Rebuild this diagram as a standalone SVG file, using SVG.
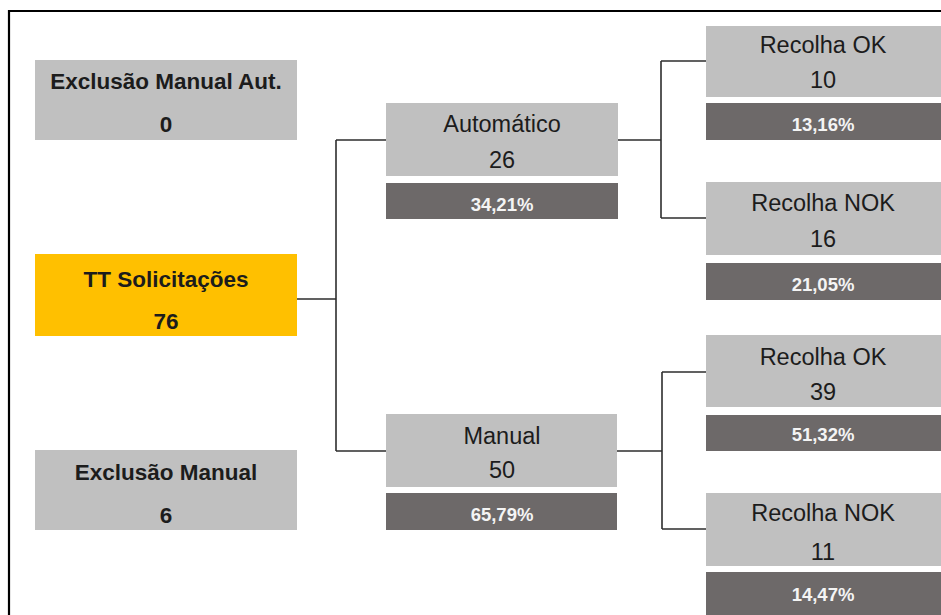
<svg xmlns="http://www.w3.org/2000/svg" width="941" height="615" viewBox="0 0 941 615">
  <style>
    .box { fill: #c0c0c0; }
    .hl { fill: #ffc000; }
    .bar { fill: #6d6969; }
    .t { font-family: "Liberation Sans", Arial, sans-serif; text-anchor: middle; fill: #1c1c1c; }
    .b { font-weight: bold; font-size: 22.5px; }
    .r { font-size: 23.5px; }
    .p { font-family: "Liberation Sans", Arial, sans-serif; text-anchor: middle; font-weight: bold; font-size: 18.5px; fill: #f4f4f4; }
    .wire { fill: none; stroke: #2e2e2e; stroke-width: 1.6; }
  </style>
  <rect width="941" height="615" fill="#ffffff"/>
  <!-- outer frame (left and top edges) -->
  <path d="M9,615 V11 H941" fill="none" stroke="#000" stroke-width="2.2"/>

  <g id="connectors">
    <path class="wire" d="M297,299 H336 M336,140 V451 M336,140 H386 M336,451 H386"/>
    <path class="wire" d="M618,140 H661 M661,61 V218 M661,61 H706 M661,218 H706"/>
    <path class="wire" d="M617,451 H662 M662,372 V529 M662,372 H706 M662,529 H706"/>
  </g>

  <g id="exclusao-manual-aut">
    <rect class="box" x="35" y="60" width="262" height="80"/>
    <text class="t b" x="166" y="89">Exclusão Manual Aut.</text>
    <text class="t b" x="166" y="132">0</text>
  </g>

  <g id="tt-solicitacoes">
    <rect class="hl" x="35" y="254" width="262" height="82"/>
    <text class="t b" x="166" y="287">TT Solicitações</text>
    <text class="t b" x="166" y="329">76</text>
  </g>

  <g id="exclusao-manual">
    <rect class="box" x="35" y="450" width="262" height="80"/>
    <text class="t b" x="166" y="480">Exclusão Manual</text>
    <text class="t b" x="166" y="523">6</text>
  </g>

  <g id="automatico">
    <rect class="box" x="386" y="103" width="232" height="73"/>
    <rect class="bar" x="386" y="183" width="232" height="36"/>
    <text class="t r" x="502" y="132">Automático</text>
    <text class="t r" x="502" y="168">26</text>
    <text class="p" x="502" y="211">34,21%</text>
  </g>

  <g id="manual">
    <rect class="box" x="386" y="414" width="231" height="73"/>
    <rect class="bar" x="386" y="493" width="231" height="37"/>
    <text class="t r" x="502" y="444">Manual</text>
    <text class="t r" x="502" y="478">50</text>
    <text class="p" x="502" y="521">65,79%</text>
  </g>

  <g id="auto-recolha-ok">
    <rect class="box" x="706" y="26" width="235" height="71"/>
    <rect class="bar" x="706" y="103" width="235" height="37"/>
    <text class="t r" x="823" y="53">Recolha OK</text>
    <text class="t r" x="823" y="88">10</text>
    <text class="p" x="823" y="131">13,16%</text>
  </g>

  <g id="auto-recolha-nok">
    <rect class="box" x="706" y="182" width="235" height="73"/>
    <rect class="bar" x="706" y="263" width="235" height="37"/>
    <text class="t r" x="823" y="211">Recolha NOK</text>
    <text class="t r" x="823" y="247">16</text>
    <text class="p" x="823" y="291">21,05%</text>
  </g>

  <g id="manual-recolha-ok">
    <rect class="box" x="706" y="335" width="235" height="72"/>
    <rect class="bar" x="706" y="415" width="235" height="36"/>
    <text class="t r" x="823" y="365">Recolha OK</text>
    <text class="t r" x="823" y="400">39</text>
    <text class="p" x="823" y="441">51,32%</text>
  </g>

  <g id="manual-recolha-nok">
    <rect class="box" x="706" y="493" width="235" height="73"/>
    <rect class="bar" x="706" y="572" width="235" height="45"/>
    <text class="t r" x="823" y="521">Recolha NOK</text>
    <text class="t r" x="823" y="560">11</text>
    <text class="p" x="823" y="601">14,47%</text>
  </g>
</svg>
